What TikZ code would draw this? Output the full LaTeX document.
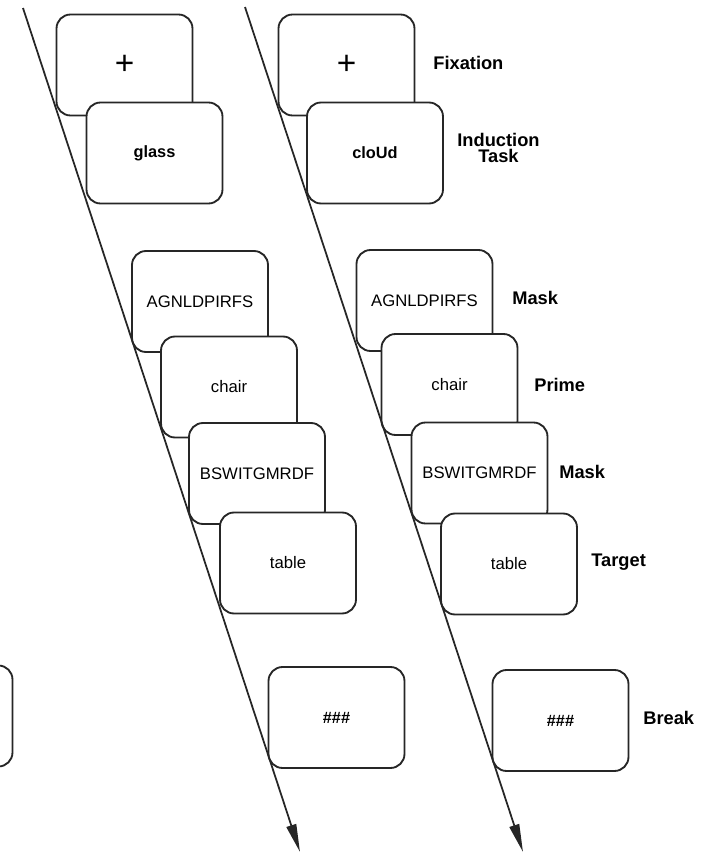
\documentclass[tikz,border=0pt]{standalone}
\usepackage{fontspec}
\setmainfont{Liberation Sans}
\usetikzlibrary{arrows.meta}

\begin{document}
\begin{tikzpicture}[
    x=0.02cm, y=-0.02cm,
    every node/.style={font=\fontsize{9.5}{11}\selectfont},
    screen/.style={draw=black!85, line width=1.05pt, fill=white, rounded corners=0.28cm,
        minimum width=2.72cm, minimum height=2.02cm, inner sep=0pt},
    boldword/.style={font=\fontsize{9.3}{11}\selectfont\bfseries},
    plusmark/.style={font=\fontsize{19}{19}\selectfont},
    phase/.style={anchor=west, inner sep=0pt, align=center, font=\fontsize{10.4}{9}\selectfont\bfseries},
    timeline/.style={draw=black!85, line width=1pt, -{Triangle[length=0.56cm,width=0.2cm]}}
]
\clip (0,0) rectangle (701,856);
% left sequence
\node[screen] (partL) at (-55.5,716) {};
\node[screen, plusmark] (fixL) at (124.5,65) {+};
\node[screen, boldword] (glassL) at (154.5,153) {glass};
\node[screen] (maskaL) at (200,301.5) {AGNLDPIRFS};
\node[screen] (primeL) at (229,387) {chair};
\node[screen] (maskbL) at (257,473.5) {BSWITGMRDF};
\node[screen] (targetL) at (288,563) {table};
\node[screen, boldword] (breakL) at (336.5,717.5) {\#\#\#};
% right sequence
\node[screen, plusmark] (fixR) at (346.5,65) {+};
\node[screen, boldword] (cloudR) at (375,153) {cloUd};
\node[screen] (maskaR) at (424.5,300.5) {AGNLDPIRFS};
\node[screen] (primeR) at (449.5,384.5) {chair};
\node[screen] (maskbR) at (479.5,473) {BSWITGMRDF};
\node[screen] (targetR) at (509,564) {table};
\node[screen, boldword] (breakR) at (560.5,720.5) {\#\#\#};
% phase names
\node[phase] (fixlab) at (433,63) {Fixation};
\node[phase] (indlab) at (457,148) {Induction\\Task};
\node[phase] (maskalab) at (512,298) {Mask};
\node[phase] (primelab) at (534,385) {Prime};
\node[phase] (maskblab) at (559,472) {Mask};
\node[phase] (targetlab) at (591,562) {Target};
\node[phase] (breaklab) at (643,718) {Break};
% time axes
\coordinate (tlLtop) at (23,8);
\coordinate (tlLend) at (300,852);
\coordinate (tlRtop) at (245,7);
\coordinate (tlRend) at (523,852);
\draw[timeline] (tlLtop) -- (tlLend);
\draw[timeline] (tlRtop) -- (tlRend);
\end{tikzpicture}
\end{document}
